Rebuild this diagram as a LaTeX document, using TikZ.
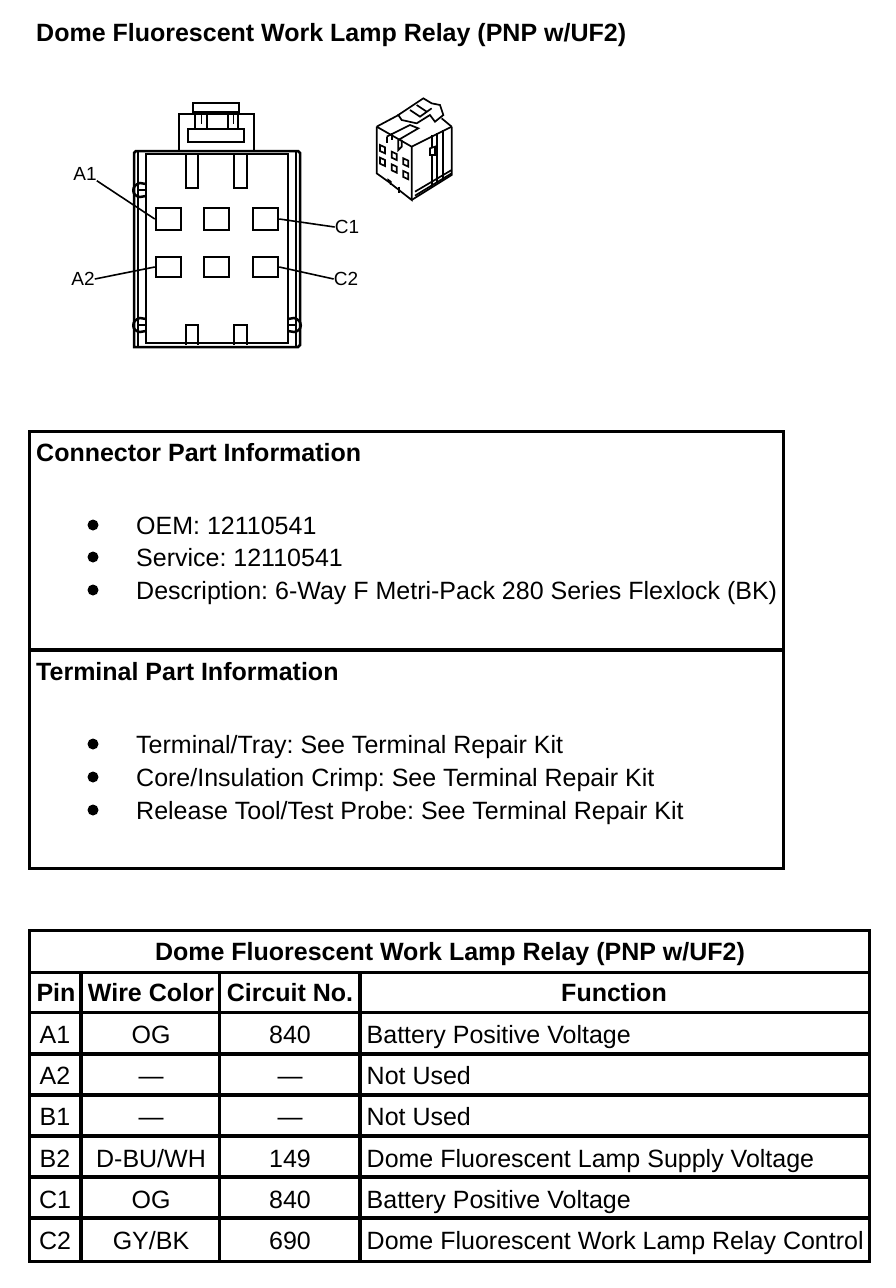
\documentclass[tikz,border=0pt]{standalone}
\usepackage{fontspec}
\setmainfont{Liberation Sans}
\usetikzlibrary{positioning}
\tikzset{
 headtext/.style={anchor=base west,inner sep=0pt,font=\fontsize{25}{29}\selectfont\bfseries},
 bodytext/.style={anchor=base west,inner sep=0pt,font=\fontsize{25}{29}\selectfont\frenchspacing},
 celltext/.style={anchor=base,inner sep=0pt,font=\fontsize{25}{29}\selectfont},
 cellhead/.style={anchor=base,inner sep=0pt,font=\fontsize{25}{29}\selectfont\bfseries},
 pinlabel/.style={inner sep=0pt,font=\fontsize{19}{21}\selectfont},
 bulletdot/.style={circle,fill=black,inner sep=0pt,minimum size=11pt},
 pinbox/.style={draw=black,line width=2.5pt,rectangle,inner sep=0pt},
 frameline/.style={draw=black,line width=3.2pt},
 partline/.style={draw=black,line width=2.5pt},
 sketchline/.style={draw=black,line width=1.7pt},
 leader/.style={draw=black,line width=1.6pt},
}
\begin{document}
\begin{tikzpicture}[x=1pt,y=-1pt]
    \useasboundingbox (0,0) rectangle (896,1288);
    \node[headtext] (title) at (36,41) {Dome Fluorescent Work Lamp Relay (PNP w/UF2)};

    % connector face view
    \draw[partline] (134,347) -- (134,153) -- (136,151) -- (298,151) -- (300,153) -- (300,345) -- (298,347) -- cycle;
    \draw[partline] (146,154) rectangle (288,343);
    \draw[partline] (138,152) -- (138,346);
    \draw[partline] (296,152) -- (296,346);
    \draw[partline] (179,151) -- (179,114) -- (254,114) -- (254,151);
    \draw[partline] (188,129) rectangle (244,142);
    \draw[partline] (193,114) -- (193,103) -- (239,103) -- (239,114);
    \draw[partline] (193,112) -- (239,112);
    \draw[partline] (195,112) -- (195,129);
    \draw[partline] (207,112) -- (207,129);
    \draw[partline] (228,112) -- (228,129);
    \draw[partline] (238,112) -- (238,129);
    \draw[line width=1pt] (201,114) -- (201,124);
    \draw[line width=1pt] (233,114) -- (233,124);
    % slots
    \draw[partline] (186,154) -- (186,188) -- (198,188) -- (198,154);
    \draw[partline] (234,154) -- (234,188) -- (247,188) -- (247,154);
    \draw[partline] (186,345) -- (186,325) -- (198,325) -- (198,345);
    \draw[partline] (234,345) -- (234,325) -- (247,325) -- (247,345);
    % clips on the sides
    \draw[partline] (146,184) -- (140,183) .. controls (131,185) and (131,196) .. (140,197) -- (146,196);
    \draw[partline] (146,319) -- (140,318) .. controls (131,320) and (131,331) .. (140,332) -- (146,331);
    \draw[partline] (288,319) -- (294,318) .. controls (303,320) and (303,331) .. (294,332) -- (288,331);
    \draw[line width=1.5pt] (138,190) -- (146,190);
    \draw[line width=1.5pt] (138,325) -- (146,325);
    \draw[line width=1.5pt] (288,325) -- (296,325);

    % pins
    \node[pinbox,minimum width=25pt,minimum height=22pt] (pinAa) at (168.5,219) {};
    \node[pinbox,minimum width=25pt,minimum height=22pt] (pinBa) at (216.5,219) {};
    \node[pinbox,minimum width=25pt,minimum height=22pt] (pinCa) at (265.5,219) {};
    \node[pinbox,minimum width=25pt,minimum height=20pt] (pinAb) at (168.5,267) {};
    \node[pinbox,minimum width=25pt,minimum height=20pt] (pinBb) at (216.5,267) {};
    \node[pinbox,minimum width=25pt,minimum height=20pt] (pinCb) at (265.5,267) {};
    \node[pinlabel] (labAa) at (85,174) {A1};
    \node[pinlabel] (labAb) at (83,279) {A2};
    \node[pinlabel] (labCa) at (347,227) {C1};
    \node[pinlabel] (labCb) at (346,279) {C2};
    \draw[leader] (labAa.south east) -- (pinAa.west);
    \draw[leader] (labAb.east) -- (pinAb.west);
    \draw[leader] (labCa.west) -- (pinCa.east);
    \draw[leader] (labCb.west) -- (pinCb.east);

    % small view of the connector
    \begin{scope}[shift={(360,85)},x=0.3333pt,y=-0.3333pt]
        \draw[sketchline] (50,125) -- (125,85);
        \draw[sketchline] (245,100) -- (275,125);
        \draw[sketchline] (50,125) -- (155,185) -- (275,125);
        \draw[sketchline] (50,125) -- (50,265) -- (85,290) -- (155,345) -- (155,185);
        \draw[sketchline] (155,345) -- (275,270) -- (275,125);
        \draw[sketchline] (165,320) -- (275,255);
        \draw[sketchline] (165,332) -- (275,265);
        \draw[sketchline] (230,145) -- (230,295);
        \draw[sketchline] (250,135) -- (250,280);
        \draw[sketchline] (215,150) -- (215,190);
        \draw[sketchline] (215,210) -- (215,305);
        \draw[sketchline] (210,190) -- (225,185) -- (225,210) -- (210,210) -- cycle;
        \draw[sketchline] (80,155) -- (150,120) -- (175,130) -- (115,165) -- (115,195) -- (125,185) -- (125,165);
        \draw[sketchline] (80,155) -- (80,175);
        \draw[sketchline] (95,145) -- (95,165);
        \draw[sketchline,fill=white] (115,90) -- (190,40) -- (215,55) -- (240,60) -- (250,90) -- (225,110) -- (210,90) -- (170,115) -- (125,105) -- cycle;
        \draw[sketchline] (150,75) -- (180,95) -- (215,70);
        \draw[sketchline] (170,60) -- (200,80);
        \draw[sketchline] (60,180) -- (75,187) -- (75,205) -- (60,198) -- cycle;
        \draw[sketchline] (95,200) -- (110,207) -- (110,225) -- (95,218) -- cycle;
        \draw[sketchline] (130,220) -- (145,227) -- (145,245) -- (130,238) -- cycle;
        \draw[sketchline] (60,218) -- (75,225) -- (75,243) -- (60,236) -- cycle;
        \draw[sketchline] (95,238) -- (110,245) -- (110,263) -- (95,256) -- cycle;
        \draw[sketchline] (130,258) -- (145,265) -- (145,283) -- (130,276) -- cycle;
        \draw[sketchline] (85,290) -- (85,285) -- (92,290) -- (92,300);
        \draw[sketchline] (118,305) -- (118,325);
    \end{scope}

    % part information
    \draw[frameline] (29.5,431.5) rectangle (783.5,868.5);
    \draw[frameline] (29.5,650) -- (783.5,650);
    \node[headtext] (connhead) at (36,461) {Connector Part Information};
    \node[headtext] (termhead) at (36,680) {Terminal Part Information};
    \node[bulletdot] (dotOem) at (93,525) {};
    \node[bulletdot] (dotSrv) at (93,557) {};
    \node[bulletdot] (dotDes) at (93,590) {};
    \node[bulletdot] (dotTer) at (93,744) {};
    \node[bulletdot] (dotCor) at (93,777) {};
    \node[bulletdot] (dotRel) at (93,810) {};
    \node[bodytext] (oem) at (136,534) {OEM: 12110541};
    \node[bodytext] (srv) at (136,566) {Service: 12110541};
    \node[bodytext] (des) at (136,599) {Description: 6-Way F Metri-Pack 280 Series Flexlock (BK)};
    \node[bodytext] (ter) at (136,753) {Terminal/Tray: See Terminal Repair Kit};
    \node[bodytext] (cor) at (136,786) {Core/Insulation Crimp: See Terminal Repair Kit};
    \node[bodytext] (rel) at (136,819) {Release Tool/Test Probe: See Terminal Repair Kit};

    % table
    \draw[frameline] (29.5,930.5) rectangle (869.5,1261.5);
    \foreach \ypos in {972.5,1012.5,1054,1095,1136,1177,1218}
        \draw[frameline] (29.5,\ypos) -- (869.5,\ypos);
    \foreach \xpos in {81,219.5,360}
        \draw[frameline] (\xpos,972.5) -- (\xpos,1261.5);
    \node[cellhead] (tabhead) at (450,960) {Dome Fluorescent Work Lamp Relay (PNP w/UF2)};
    \node[cellhead] (hPin) at (56,1001) {Pin};
    \node[cellhead] (hWire) at (151,1001) {Wire Color};
    \node[cellhead] (hCirc) at (290,1001) {Circuit No.};
    \node[cellhead] (hFunc) at (614,1001) {Function};
    \foreach \ypos/\pin/\wire/\circno/\func in {
        1043/A1/OG/840/{Battery Positive Voltage},
        1084/A2/{---}/{---}/{Not Used},
        1125/B1/{---}/{---}/{Not Used},
        1167/B2/{D-BU/WH}/149/{Dome Fluorescent Lamp Supply Voltage},
        1208/C1/OG/840/{Battery Positive Voltage},
        1249/C2/{GY/BK}/690/{Dome Fluorescent Work Lamp Relay Control}}{
        \node[celltext] (pin\pin) at (55,\ypos) {\pin};
        \node[celltext] (wire\pin) at (151,\ypos) {\wire};
        \node[celltext] (circ\pin) at (290,\ypos) {\circno};
        \node[bodytext] (func\pin) at (366.5,\ypos) {\func};
    }
\end{tikzpicture}
\end{document}
